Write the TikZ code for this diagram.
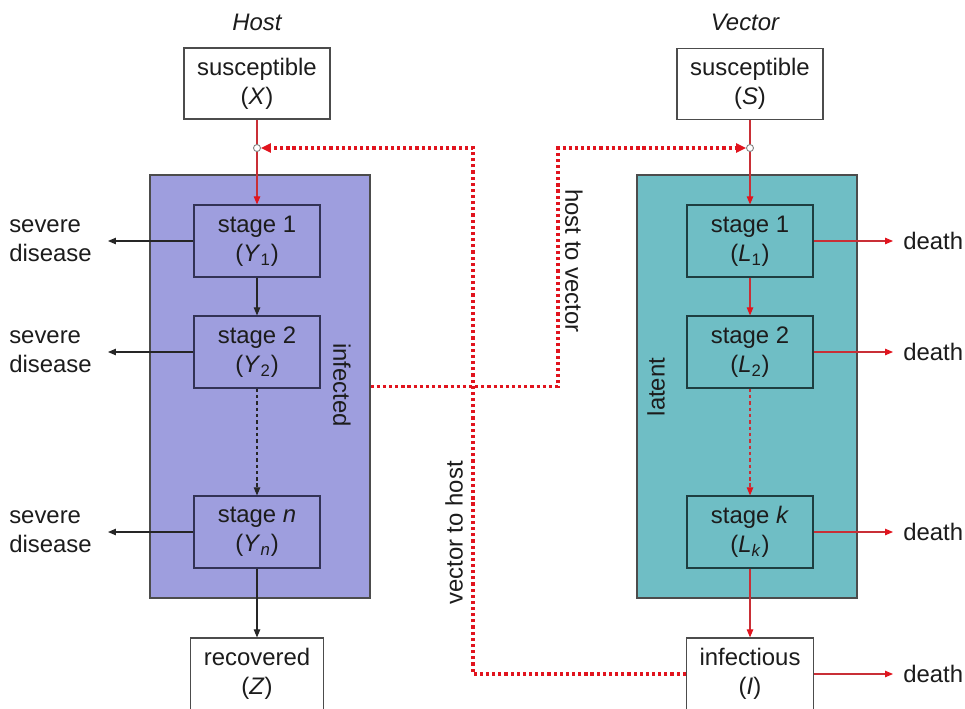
\documentclass[tikz,border=0pt]{standalone}
\usepackage{fontspec}
\setmainfont{Liberation Sans}
\usetikzlibrary{arrows.meta}

\definecolor{hostfill}{RGB}{158,158,222}
\definecolor{vecfill}{RGB}{111,190,197}
\definecolor{linkred}{RGB}{225,20,30}
\definecolor{inkgray}{RGB}{28,28,28}
\definecolor{hostline}{RGB}{50,50,85}
\definecolor{vecline}{RGB}{30,62,64}

\begin{document}
\begin{tikzpicture}[x=0.02cm, y=-0.02cm,
    every node/.style={font=\fontsize{13.6}{16.5}\selectfont, text=inkgray},
    panel/.style={draw=black!70, line width=0.7pt, minimum width=4.4cm, minimum height=8.46cm},
    stagebox/.style={draw=hostline, line width=0.7pt, minimum width=2.52cm, minimum height=1.44cm, align=center, inner sep=0pt},
    endbox/.style={draw=black!70, fill=white, line width=0.7pt, minimum height=1.42cm, align=center, inner sep=0pt},
    blackarr/.style={draw=black!85, line width=0.6pt, -{Triangle[length=1.6mm,width=1.3mm]}},
    redarr/.style={draw=linkred!75!gray, line width=0.6pt, -{Triangle[length=1.6mm,width=1.3mm,color=linkred]}},
    link/.style={draw=linkred, line width=1.8pt, dash pattern=on 1.8pt off 1.7pt, -{Triangle[length=2mm,width=1.8mm]}},
    junc/.style={circle, draw=gray, fill=white, line width=0.5pt, inner sep=0pt, minimum size=1.4mm},
    sidetext/.style={inner sep=0pt, inner xsep=0.2cm},
  ]
    \useasboundingbox[fill=white] (0,0) rectangle (965,708);

    % headings
    \node[font=\fontsize{13.6}{16.5}\selectfont\itshape] (hosttitle) at (257,22) {Host};
    \node[font=\fontsize{13.6}{16.5}\selectfont\itshape] (vectitle) at (745,22) {Vector};

    % shaded groups
    \node[panel, fill=hostfill] (infbox) at (260,386.5) {};
    \node[panel, fill=vecfill] (latbox) at (747,386.5) {};
    \node[rotate=-90] (inflabel) at (342,385) {infected};
    \node[rotate=90] (latlabel) at (656,387) {latent};

    % host column
    \node[endbox, minimum width=2.92cm] (sx) at (257,83.5) {susceptible\\(\textit{X})};
    \node[stagebox] (y1) at (257,241) {stage 1\\(\textit{Y}\textsubscript{1})};
    \node[stagebox] (y2) at (257,352) {stage 2\\(\textit{Y}\textsubscript{2})};
    \node[stagebox] (yn) at (257,532) {stage \textit{n}\\(\textit{Y}\textsubscript{\textit{n}})};
    \node[endbox, minimum width=2.66cm, minimum height=1.44cm] (rec) at (257,674) {recovered\\(\textit{Z})};

    % vector column
    \node[endbox, minimum width=2.92cm] (ss) at (750,84) {susceptible\\(\textit{S})};
    \node[stagebox, draw=vecline] (l1) at (750,241) {stage 1\\(\textit{L}\textsubscript{1})};
    \node[stagebox, draw=vecline] (l2) at (750,352) {stage 2\\(\textit{L}\textsubscript{2})};
    \node[stagebox, draw=vecline] (lk) at (750,532) {stage \textit{k}\\(\textit{L}\textsubscript{\textit{k}})};
    \node[endbox, minimum width=2.54cm, minimum height=1.44cm] (infc) at (750,674) {infectious\\(\textit{I})};

    % outflows
    \node[sidetext, anchor=east, align=left, inner xsep=0.32cm] (sd1) at (108,241) {severe\\disease};
    \node[sidetext, anchor=east, align=left, inner xsep=0.32cm] (sd2) at (108,352) {severe\\disease};
    \node[sidetext, anchor=east, align=left, inner xsep=0.32cm] (sdn) at (108,532) {severe\\disease};
    \node[sidetext, anchor=west] (d1) at (893,241) {death};
    \node[sidetext, anchor=west] (d2) at (893,352) {death};
    \node[sidetext, anchor=west] (dk) at (893,532) {death};
    \node[sidetext, anchor=west] (di) at (893,674) {death};

    % host arrows
    \draw[redarr] (sx) -- (y1);
    \draw[blackarr] (y1) -- (y2);
    \draw[blackarr, dash pattern=on 2pt off 1.6pt] (y2) -- (yn);
    \draw[blackarr] (yn) -- (rec);
    \draw[blackarr] (y1) -- (sd1);
    \draw[blackarr] (y2) -- (sd2);
    \draw[blackarr] (yn) -- (sdn);

    % vector arrows
    \draw[redarr] (ss) -- (l1);
    \draw[redarr] (l1) -- (l2);
    \draw[redarr, dash pattern=on 2pt off 1.6pt] (l2) -- (lk);
    \draw[redarr] (lk) -- (infc);
    \draw[redarr] (l1) -- (d1);
    \draw[redarr] (l2) -- (d2);
    \draw[redarr] (lk) -- (dk);
    \draw[redarr] (infc) -- (di);

    % transmission links
    \node[junc] (jx) at (257,148) {};
    \node[junc] (js) at (750,148) {};
    \coordinate (vh) at (473,148);
    \coordinate (hv) at (558,148);
    \draw[link] (infc.west) -| (vh) -- (jx);
    \draw[link] (infbox.east) -| (hv) -- (js);
    \node[rotate=-90] (h2v) at (574,261) {host to vector};
    \node[rotate=90] (v2h) at (454,533) {vector to host};
\end{tikzpicture}
\end{document}
